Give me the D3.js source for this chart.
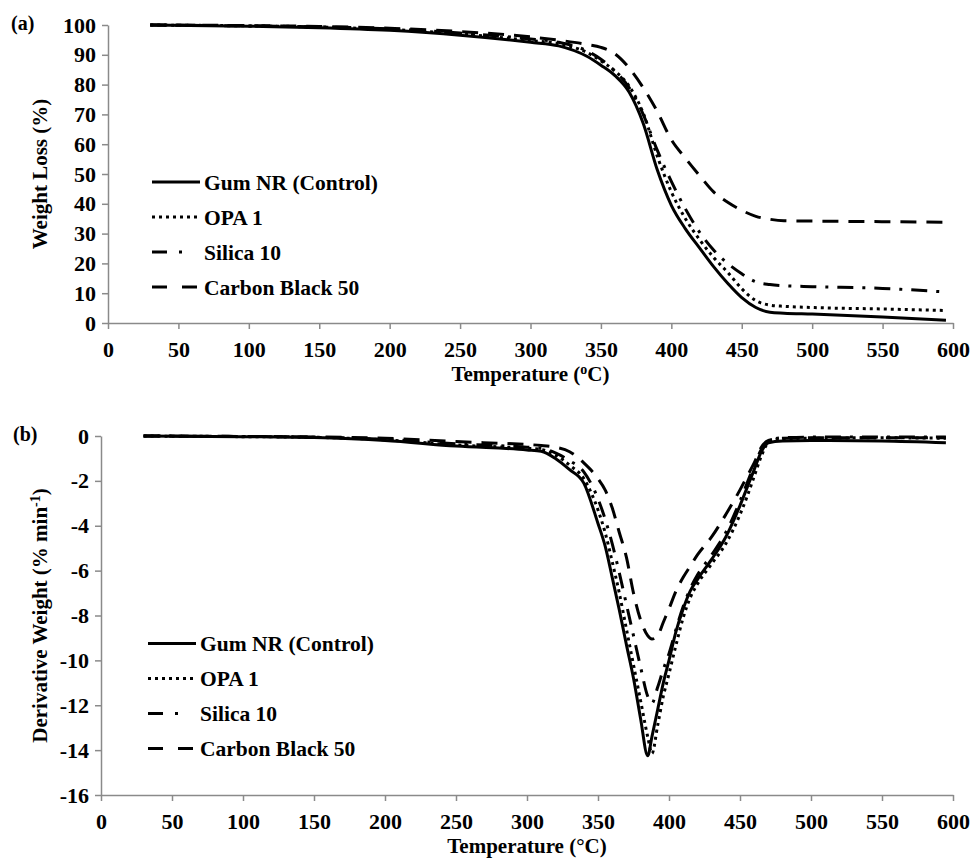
<!DOCTYPE html>
<meta charset="utf-8">
<style>
    body {
        margin: 0;
        background: #fff;
    }

    svg text {
        font-family: "Liberation Serif", "Times New Roman", serif;
        font-weight: bold;
        fill: #000;
    }
</style>
<div id="container"></div>
<script src="https://cdn.jsdelivr.net/npm/d3@7"></script>
<script>
    // series names, shared by both panels
    const seriesNames = ["Gum NR (Control)", "OPA 1", "Silica 10", "Carbon Black 50"];

    // (a) TGA: temperature (°C) and weight (%)
    const tgaTemp = [30, 100, 150, 200, 250, 300, 320, 340, 350, 360, 370, 380, 390, 400, 410, 420, 430, 440, 450, 460, 470, 480, 500, 550, 595];
    const tgaGum = [100, 99.6, 99.1, 98.2, 96.6, 94.2, 93.0, 89.5, 86.5, 83.0, 77.5, 67.0, 51.4, 39.5, 31.6, 25.2, 18.9, 13.3, 8.5, 5.2, 3.6, 3.3, 3.0, 2.0, 0.9];
    const tgaOpa = [100, 99.7, 99.3, 98.5, 97.0, 94.8, 93.7, 90.8, 88.0, 84.5, 79.5, 70.5, 56.0, 44.0, 35.0, 28.0, 22.0, 17.0, 11.5, 7.5, 6.0, 5.6, 5.2, 4.7, 4.2];
    const tgaSilica = [100, 99.7, 99.4, 98.7, 97.3, 95.3, 94.2, 91.3, 88.5, 84.5, 79.0, 70.0, 58.0, 47.5, 38.3, 30.5, 24.5, 20.0, 16.5, 13.8, 12.9, 12.5, 12.2, 11.6, 10.4];
    const tgaCarbon = [100, 99.8, 99.5, 98.9, 97.8, 96.0, 94.9, 93.5, 92.5, 90.3, 85.6, 79.0, 71.0, 61.5, 55.3, 49.5, 44.0, 40.5, 37.8, 35.8, 34.8, 34.3, 34.2, 34.0, 33.8];

    // (b) DTG: temperature (°C) and derivative weight (% min-1)
    const dtgTemp = [30, 100, 150, 200, 250, 300, 310, 320, 330, 340, 350, 355, 360, 365, 370, 375, 380, 385, 388, 392, 396, 400, 405, 410, 415, 420, 430, 440, 450, 455, 460, 465, 470, 480, 500, 550, 595];
    const dtgGum = [0, -0.03, -0.07, -0.2, -0.45, -0.62, -0.68, -1.0, -1.5, -2.1, -3.9, -4.9, -6.3, -7.75, -9.3, -10.8, -12.6, -14.25, -13.4, -12.2, -11.0, -10.0, -8.7, -7.7, -6.9, -6.4, -5.5, -4.5, -3.1, -2.3, -1.5, -0.7, -0.3, -0.22, -0.2, -0.22, -0.3];
    const dtgOpa = [0, -0.03, -0.06, -0.17, -0.4, -0.55, -0.6, -0.85, -1.3, -1.9, -3.3, -4.3, -5.6, -7.0, -8.6, -10.2, -11.8, -13.4, -14.15, -12.9, -11.6, -10.6, -9.3, -8.1, -7.2, -6.6, -5.7, -4.8, -3.5, -2.7, -1.8, -0.9, -0.3, -0.12, -0.1, -0.08, -0.1];
    const dtgSilica = [0, -0.02, -0.05, -0.15, -0.35, -0.5, -0.55, -0.75, -1.1, -1.6, -2.8, -3.7, -4.8, -6.1, -7.5, -8.9, -10.3, -11.6, -11.9, -11.2, -10.4, -9.7, -8.6, -7.6, -6.8, -6.2, -5.3, -4.3, -2.9, -2.1, -1.3, -0.6, -0.2, -0.08, -0.05, -0.05, -0.05];
    const dtgCarbon = [0, -0.02, -0.04, -0.1, -0.25, -0.38, -0.42, -0.5, -0.7, -1.2, -1.9, -2.4, -3.2, -4.3, -5.4, -7.0, -8.2, -8.9, -9.05, -8.9, -8.3, -7.7, -6.9, -6.3, -5.8, -5.3, -4.5, -3.5, -2.4, -1.8, -1.2, -0.5, -0.2, -0.1, -0.08, -0.08, -0.08];

    const xTicks = d3.range(0, 601, 50);
    const tgaTicks = d3.range(0, 101, 10);
    const dtgTicks = d3.range(-16, 1, 2);

    // line styles: solid, dotted, dash-dot, dashed
    const styles = [
        {dash: null, legendDash: null},
        {dash: "3,4", legendDash: "3,4"},
        {dash: "16,9,3,9", legendDash: "15,12,3,30"},
        {dash: "16,10", legendDash: "15,15"}
    ];

    const width = 971, height = 858;
    const axisColor = "#8a8a8a";

    const svg = d3.select("#container").append("svg")
        .attr("width", width)
        .attr("height", height);

    function panel(opts) {
        const x = d3.scaleLinear().domain([0, 600]).range([opts.left, opts.right]);
        const y = d3.scaleLinear().domain(opts.yDomain).range([opts.bottom, opts.top]);
        const g = svg.append("g");

        // axes
        const xAxis = g.append("g")
            .attr("transform", `translate(0,${opts.bottom})`)
            .call(d3.axisBottom(x).tickValues(xTicks).tickSize(6).tickSizeOuter(0).tickPadding(12));
        const yAxis = g.append("g")
            .attr("transform", `translate(${opts.left},0)`)
            .call(d3.axisLeft(y).tickValues(opts.yTicks).tickSize(6).tickSizeOuter(0).tickPadding(6));
        [xAxis, yAxis].forEach(a => {
            a.select(".domain").attr("stroke", axisColor).attr("stroke-width", 1.5);
            a.selectAll(".tick line").attr("stroke", axisColor).attr("stroke-width", 1.5);
            a.selectAll(".tick text").style("font-size", "22px");
        });
        yAxis.selectAll(".tick text").text(d => d < 0 ? "-" + Math.abs(d) : d);

        // curves
        const line = d3.line()
            .x((d, i) => x(opts.temps[i]))
            .y(d => y(d))
            .curve(d3.curveMonotoneX);
        opts.series.forEach((vals, i) => {
            g.append("path")
                .datum(vals)
                .attr("d", line)
                .attr("fill", "none")
                .attr("stroke", "#000")
                .attr("stroke-width", 3)
                .attr("stroke-dasharray", styles[i].dash);
        });

        // legend
        const lg = g.append("g");
        seriesNames.forEach((name, i) => {
            const ly = opts.legendY + i * 35;
            lg.append("line")
                .attr("x1", opts.legendX).attr("x2", opts.legendX + 48)
                .attr("y1", ly).attr("y2", ly)
                .attr("stroke", "#000").attr("stroke-width", 3)
                .attr("stroke-dasharray", styles[i].legendDash);
            lg.append("text")
                .attr("x", opts.legendX + 52)
                .attr("y", ly)
                .attr("dy", "0.35em")
                .style("font-size", "21.5px")
                .text(name);
        });

        // x title
        const xt = g.append("text")
            .attr("x", (opts.left + opts.right) / 2)
            .attr("y", opts.bottom + 58)
            .attr("text-anchor", "middle")
            .style("font-size", "21px");
        xt.append("tspan").text("Temperature (");
        xt.append("tspan").text(opts.degree).attr("baseline-shift", opts.degreeShift).style("font-size", opts.degreeSize);
        xt.append("tspan").text("C)");

        // y title
        const yt = g.append("text")
            .attr("transform", `translate(47,${(opts.top + opts.bottom) / 2}) rotate(-90)`)
            .attr("text-anchor", "middle")
            .style("font-size", "21px");
        opts.yTitle(yt);

        g.append("text")
            .attr("x", opts.tagX).attr("y", opts.tagY)
            .style("font-size", "20px")
            .text(opts.tag);
    }

    panel({
        left: 108, right: 953, top: 25, bottom: 323,
        yDomain: [0, 100], yTicks: tgaTicks,
        temps: tgaTemp, series: [tgaGum, tgaOpa, tgaSilica, tgaCarbon],
        legendX: 152, legendY: 182,
        degree: "o", degreeShift: "super", degreeSize: "14px",
        yTitle: t => t.text("Weight Loss (%)"),
        tag: "(a)", tagX: 11, tagY: 30
    });

    panel({
        left: 101, right: 953, top: 436, bottom: 795,
        yDomain: [-16, 0], yTicks: dtgTicks,
        temps: dtgTemp, series: [dtgGum, dtgOpa, dtgSilica, dtgCarbon],
        legendX: 148, legendY: 643.5,
        degree: "°", degreeShift: "0", degreeSize: "21px",
        yTitle: t => {
            t.append("tspan").text("Derivative Weight (% min");
            t.append("tspan").text("-1").attr("baseline-shift", "super").style("font-size", "14px");
            t.append("tspan").text(")");
        },
        tag: "(b)", tagX: 13, tagY: 441
    });
</script>
